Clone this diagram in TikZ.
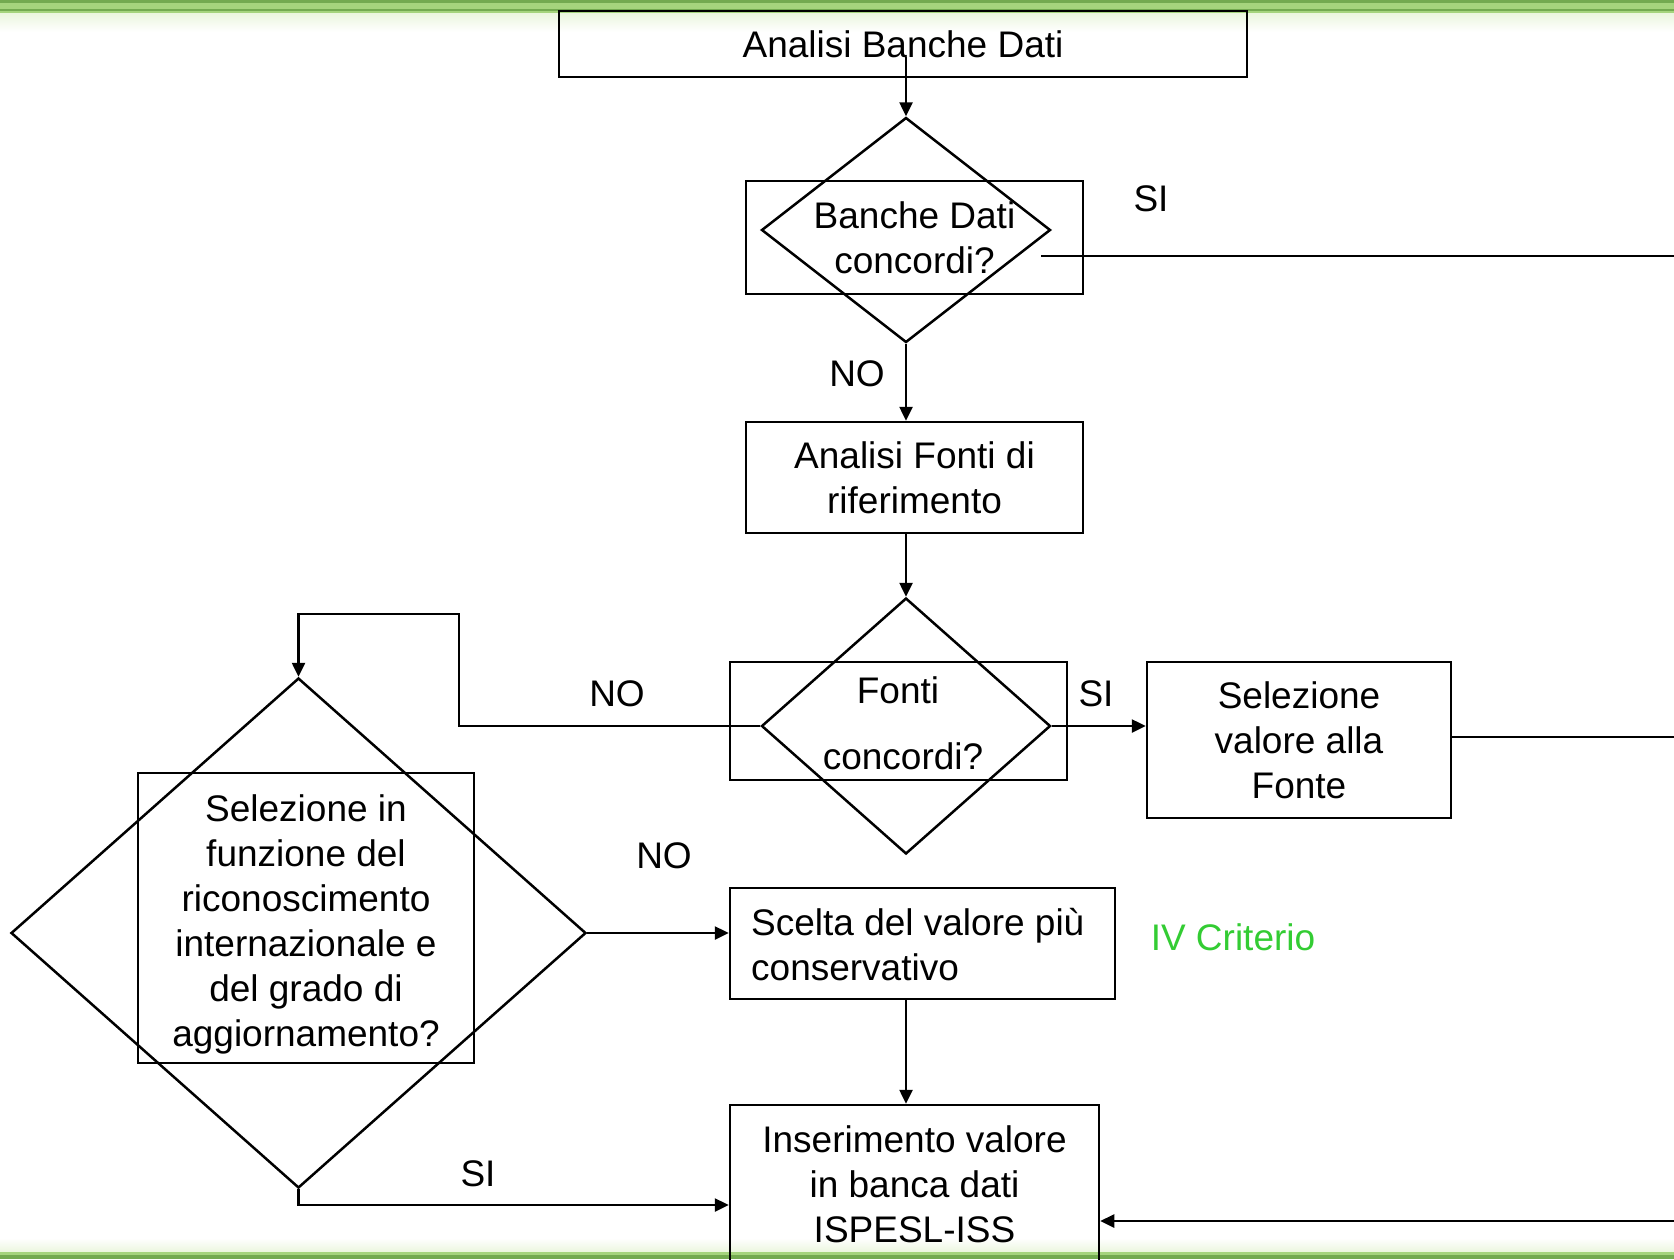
\documentclass[tikz,border=0pt]{standalone}
\usepackage{fontspec}
\setmainfont{Liberation Sans}
\usetikzlibrary{shapes.geometric,arrows.meta,calc}
\definecolor{gA}{RGB}{115,170,80}
\definecolor{gB}{RGB}{165,212,125}
\definecolor{gC}{RGB}{235,246,222}
\definecolor{ivg}{RGB}{51,204,51}
\begin{document}
\begin{tikzpicture}[x=1pt,y=-1pt,
  every node/.style={font=\fontsize{37}{45}\selectfont},
  ln/.style={line width=2.5pt},
  box/.style={draw,ln,rectangle,inner sep=0pt,align=center},
  dia/.style={draw,ln,diamond,inner sep=0pt},
  lbl/.style={inner sep=0pt},
  txt/.style={inner sep=0pt,align=center},
  arr/.style={ln,-{Triangle[length=14pt,width=13pt]}},
]
\useasboundingbox (0,0) rectangle (1674,1259);
% green bands
\fill[gB] (0,0) rectangle (1674,13);
\fill[gA] (0,0) rectangle (1674,2.5);
\fill[gA] (0,8.5) rectangle (1674,11);
\shade[top color=gC,bottom color=white] (0,13) rectangle (1674,32);
\shade[top color=white,bottom color=gC] (0,1238) rectangle (1674,1252);
\fill[gB] (0,1252) rectangle (1674,1259);
\fill[gA] (0,1255) rectangle (1674,1259);

% nodes
\node[box,minimum width=688pt,minimum height=66pt] (top) at (903,44) {Analisi Banche Dati};
\node[dia,minimum width=289pt,minimum height=225pt] (d1) at (906,230) {};
\node[box,minimum width=337pt,minimum height=113pt] (r1) at (914.5,237.5) {Banche Dati\\concordi?};
\node[lbl] (si1) at (1151,199) {SI};
\node[lbl] (no1) at (857,374) {NO};
\node[box,minimum width=337pt,minimum height=111pt] (r2) at (914.5,477.5) {Analisi Fonti di\\riferimento};
\node[dia,minimum width=289pt,minimum height=256pt] (d2) at (906,726) {};
\node[box,minimum width=337pt,minimum height=118pt] (r3) at (898.5,721) {};
\node[txt] (t3a) at (898,690) {Fonti};
\node[txt] (t3b) at (903,756) {concordi?};
\node[lbl] (si2) at (1096,694) {SI};
\node[lbl] (no2) at (617,694) {NO};
\node[box,minimum width=304pt,minimum height=156pt] (r4) at (1299,740) {Selezione\\valore alla\\Fonte};
\node[dia,minimum width=575pt,minimum height=510pt] (d3) at (298.5,933) {};
\node[box,minimum width=336pt,minimum height=290pt] (r5) at (306,918) {};
\node[txt] (t5) at (306,924.5) {Selezione in\\funzione del\\riconoscimento\\internazionale e\\del grado di\\aggiornamento?};
\node[lbl] (no3) at (664,856) {NO};
\node[box,minimum width=385pt,minimum height=111pt] (r6) at (922.5,943.5) {};
\node[txt,align=left,anchor=west] (t6) at (751,944.5) {Scelta del valore più\\conservativo};
\node[lbl,text=ivg] (iv) at (1233,937) {IV Criterio};
\node[box,minimum width=369pt,minimum height=158pt] (r7) at (914.5,1184) {Inserimento valore\\in banca dati\\ISPESL-ISS};
\node[lbl] (si3) at (478,1174) {SI};

% coordinates
\coordinate (c0) at (906,57);
\coordinate (c1a) at (1041,256);
\coordinate (c1b) at (1674,256);
\coordinate (c4b) at (1674,737);
\coordinate (c2a) at (459,726);
\coordinate (c2b) at (459,614);
\coordinate (c2c) at (298.5,614);
\coordinate (c3a) at (298.5,1205);
\coordinate (c5a) at (1674,1221);

% connectors
\draw[arr] (c0) -- (d1.north);
\draw[ln] (c1a) -- (c1b);
\draw[arr] (d1.south) -- (d1.south |- r2.north);
\draw[arr] (d2.north |- r2.south) -- (d2.north);
\draw[arr] (d2.east) -- (r4.west |- d2.east);
\draw[ln] (r4.east |- c4b) -- (c4b);
\draw[arr] (d2.west) -- (c2a) -- (c2b) -- (c2c) -- (d3.north);
\draw[arr] (d3.east) -- (r6.west |- d3.east);
\draw[arr] (d1.south |- r6.south) -- (d1.south |- r7.north);
\draw[arr] (d3.south) -- (c3a) -- (r7.west |- c3a);
\draw[arr] (c5a) -- (r7.east |- c5a);
\end{tikzpicture}
\end{document}
